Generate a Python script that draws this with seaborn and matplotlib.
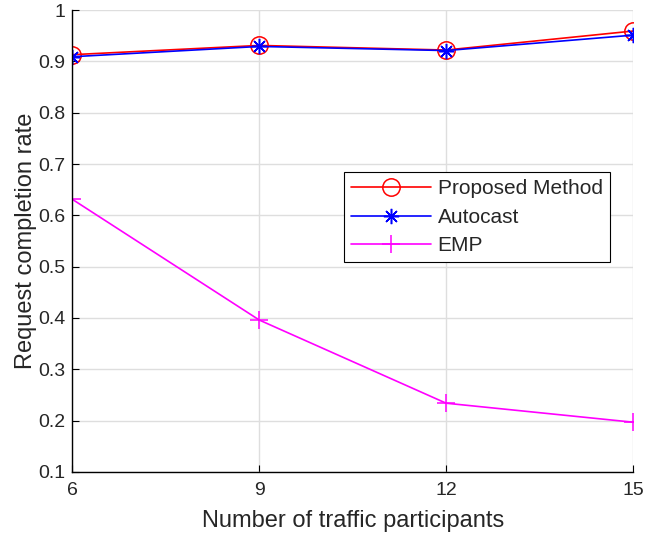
import matplotlib
matplotlib.use("Agg")
import matplotlib.pyplot as plt
import pandas as pd
import seaborn as sns

participants = [6, 9, 12, 15]
proposed_rate = [0.913, 0.931, 0.922, 0.959]
autocast_rate = [0.909, 0.929, 0.921, 0.951]
emp_rate = [0.631, 0.396, 0.234, 0.197]

# (label, values, colour, marker, marker size)
series = [
    ("Proposed Method", proposed_rate, "#ff0000", "o", 12.5),
    ("Autocast", autocast_rate, "#0000ff", (8, 2, 0), 11),
    ("EMP", emp_rate, "#ff00ff", "+", 13),
]

sns.set_style("whitegrid")
plt.rcParams["font.family"] = ["Liberation Sans", "DejaVu Sans"]

fig = plt.figure(figsize=(6.46, 5.38), dpi=100)
ax = fig.add_axes([0.1122, 0.1227, 0.8676, 0.8587])

for name, values, color, marker, msize in series:
    df = pd.DataFrame({"x": participants, "y": values})
    sns.lineplot(
        data=df, x="x", y="y", ax=ax, color=color, label=name,
        marker=marker, markersize=msize, markerfacecolor="none",
        markeredgecolor=color, markeredgewidth=1.1, linewidth=1.2,
    )

ax.set_xlim(6, 15)
ax.set_ylim(0.1, 1.0)
ax.set_xticks(participants)
ax.set_yticks([0.1, 0.2, 0.3, 0.4, 0.5, 0.6, 0.7, 0.8, 0.9, 1.0])
ax.set_yticklabels(["0.1", "0.2", "0.3", "0.4", "0.5", "0.6", "0.7", "0.8", "0.9", "1"])
ax.set_xlabel("Number of traffic participants", fontsize=17, labelpad=8)
ax.set_ylabel("Request completion rate", fontsize=17, labelpad=1)
ax.tick_params(axis="both", labelsize=14, direction="in", length=5,
               width=0.8, color="black", left=True, bottom=True)
ax.tick_params(axis="x", pad=7)
ax.tick_params(axis="y", pad=5)
ax.grid(True, color="#dedede", linewidth=1.0)

for side in ["top", "right"]:
    ax.spines[side].set_visible(False)
for side in ["left", "bottom"]:
    ax.spines[side].set_color("black")
    ax.spines[side].set_linewidth(1.0)

leg = ax.legend(loc="upper left", bbox_to_anchor=(0.4844, 0.649), fontsize=15,
                frameon=True, fancybox=False, borderaxespad=0, handlelength=3.85,
                borderpad=0.35, labelspacing=0.45, handletextpad=0.3)
leg.get_frame().set_edgecolor("black")
leg.get_frame().set_linewidth(0.8)
leg.get_frame().set_alpha(1)

fig.savefig("out.png", dpi=100)
